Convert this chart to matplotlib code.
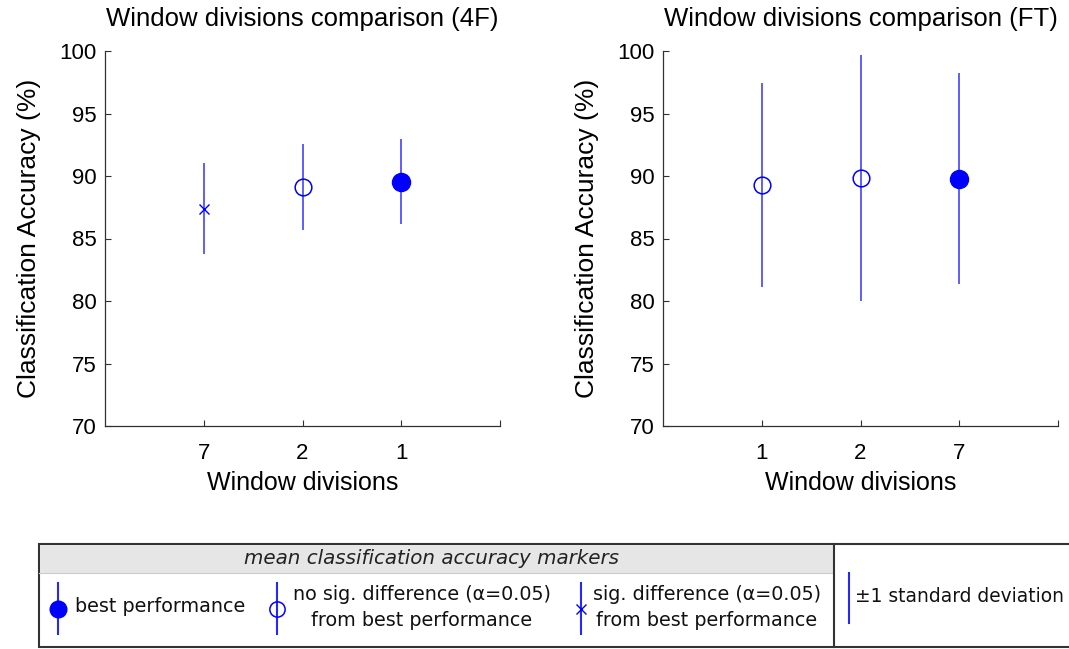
import matplotlib
matplotlib.use("Agg")
import matplotlib.pyplot as plt
from matplotlib.patches import Rectangle
from matplotlib.lines import Line2D

plt.rcParams['font.family'] = ['Liberation Sans', 'DejaVu Sans']

# ---- data ----
left_title = "Window divisions comparison (4F)"
left_labels = ['7', '2', '1']
left_means = [87.4, 89.1, 89.55]
left_std = [3.66, 3.44, 3.41]
left_kind = ['sig', 'nosig', 'best']

right_title = "Window divisions comparison (FT)"
right_labels = ['1', '2', '7']
right_means = [89.3, 89.83, 89.8]
right_std = [8.17, 9.83, 8.41]
right_kind = ['nosig', 'nosig', 'best']

BLUE = '#0000ff'
W, H = 1069, 649

fig = plt.figure(figsize=(W / 100, H / 100), dpi=100)


def px_axes(x0, y0, x1, y1):
    return fig.add_axes([x0 / W, 1 - y1 / H, (x1 - x0) / W, (y1 - y0) / H])


def marker_style(kind):
    if kind == 'best':
        return dict(marker='o', markersize=13, markerfacecolor=BLUE, markeredgecolor=BLUE)
    if kind == 'nosig':
        return dict(marker='o', markersize=12, markerfacecolor='none', markeredgecolor=BLUE,
                    markeredgewidth=1.1)
    return dict(marker='x', markersize=6.5, markeredgecolor=BLUE, markeredgewidth=1.0)


def draw_panel(ax, title, labels, means, stds, kinds):
    xs = list(range(1, len(labels) + 1))
    for x, m, s, k in zip(xs, means, stds, kinds):
        ax.plot([x, x], [m - s, m + s], color=BLUE, lw=1.1, alpha=0.8, solid_capstyle='butt')
        ax.plot([x], [m], linestyle='none', **marker_style(k))
    ax.set_xlim(0, 4)
    ax.set_ylim(70, 100)
    ax.set_xticks([1, 2, 3, 4])
    ax.set_xticklabels(labels + [''])
    ax.set_yticks([70, 75, 80, 85, 90, 95, 100])
    for sp in ['top', 'right']:
        ax.spines[sp].set_visible(False)
    for sp in ['left', 'bottom']:
        ax.spines[sp].set_color('#303030')
        ax.spines[sp].set_linewidth(0.9)
    ax.tick_params(direction='in', length=4, width=0.8, color='#303030', labelsize=16)
    ax.tick_params(axis='x', pad=12.5)
    ax.tick_params(axis='y', pad=6)
    ax.set_title(title, fontsize=18.5, pad=18)
    ax.set_xlabel('Window divisions', fontsize=18, labelpad=5)
    ax.set_ylabel('Classification Accuracy (%)', fontsize=19, labelpad=13)


axL = px_axes(105, 51, 500, 426)
draw_panel(axL, left_title, left_labels, left_means, left_std, left_kind)
axR = px_axes(663, 51, 1058, 426)
draw_panel(axR, right_title, right_labels, right_means, right_std, right_kind)

# ---- legend panel ----
lax = fig.add_axes([0, 0, 1, 1])
lax.set_xlim(0, W)
lax.set_ylim(H, 0)
lax.axis('off')

LEGFONT = ['DejaVu Sans']
lax.add_patch(Rectangle((39, 544), 1100, 103, facecolor='white', edgecolor='#333333', lw=1.5))
lax.add_patch(Rectangle((39.8, 544.8), 793, 28, facecolor='#e6e6e6', edgecolor='none'))
lax.add_line(Line2D([39, 833], [573, 573], color='#cccccc', lw=0.8))
lax.add_line(Line2D([834, 834], [544, 647], color='#333333', lw=1.5))
lax.text(432, 558.5, 'mean classification accuracy markers', style='italic', fontsize=14.3,
         family=LEGFONT, ha='center', va='center', color='#222222')

leg_items = [
    (58, 'best', 'best performance', None, 75, 'left'),
    (277, 'nosig', 'no sig. difference (α=0.05)', 'from best performance', 422, 'center'),
    (581, 'sig', 'sig. difference (α=0.05)', 'from best performance', 707, 'center'),
]
for x, kind, t1, t2, tx, ha in leg_items:
    lax.add_line(Line2D([x, x], [583, 634], color=BLUE, lw=1.5, alpha=0.85))
    st = marker_style(kind)
    if kind != 'sig':
        st['markersize'] = st['markersize'] - 1
    lax.add_line(Line2D([x], [608.5], linestyle='none', **st))
    if t2 is None:
        lax.text(tx, 607, t1, fontsize=13.8, family=LEGFONT, ha=ha, va='center', color='#111111')
    else:
        lax.text(tx, 595, t1, fontsize=13.8, family=LEGFONT, ha=ha, va='center', color='#111111')
        lax.text(tx, 621, t2, fontsize=13.8, family=LEGFONT, ha=ha, va='center', color='#111111')

lax.add_line(Line2D([849, 849], [573, 623], color=BLUE, lw=1.5, alpha=0.85))
lax.text(855, 597, '±1 standard deviation', fontsize=13.4, family=LEGFONT, ha='left',
         va='center', color='#111111')

fig.savefig('out.png', dpi=100)
